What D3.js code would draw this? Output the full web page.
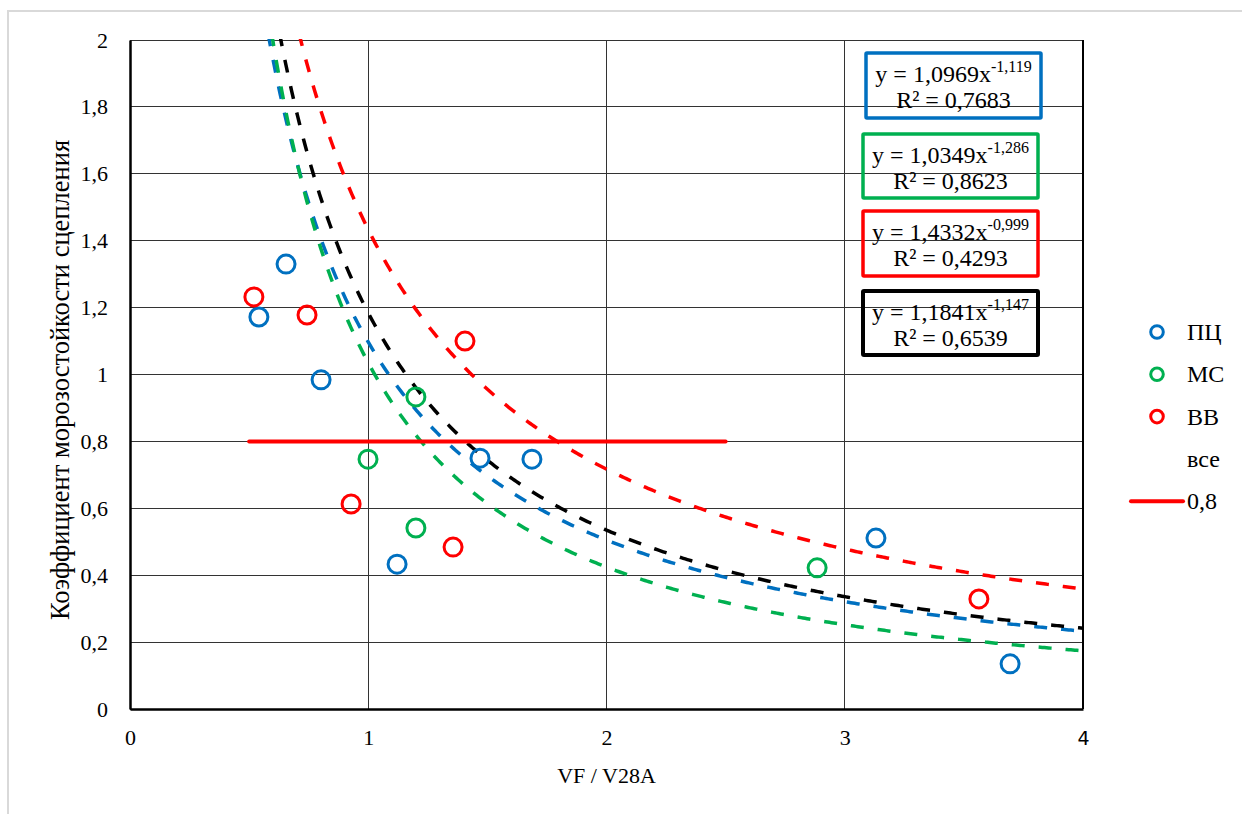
<!DOCTYPE html>
<html><head><meta charset="utf-8">
<script src="https://cdn.jsdelivr.net/npm/d3@7"></script>
<style>body{margin:0;background:#fff}svg{display:block}text{font-family:"Liberation Serif","Times New Roman",serif;fill:#000}</style>
</head><body>
<script>
// Data
const seriesNames = ["ПЦ", "МС", "ВВ"];
const pcX = [0.541, 0.655, 0.802, 1.121, 1.469, 1.687, 3.131, 3.694];
const pcY = [1.172, 1.330, 0.984, 0.433, 0.750, 0.747, 0.511, 0.135];
const msX = [1.200, 0.999, 1.200, 2.884];
const msY = [0.933, 0.747, 0.541, 0.422];
const vvX = [0.520, 0.743, 0.928, 1.406, 1.356, 3.563];
const vvY = [1.232, 1.178, 0.613, 1.100, 0.484, 0.329];
const trendA = [1.0969, 1.0349, 1.4332, 1.1841];
const trendB = [-1.119, -1.286, -0.999, -1.147];
const trendR2 = ["0,7683", "0,8623", "0,4293", "0,6539"];
const trendAtxt = ["1,0969", "1,0349", "1,4332", "1,1841"];
const trendBtxt = ["-1,119", "-1,286", "-0,999", "-1,147"];
const refX = [0.5, 2.5];
const refY = [0.8, 0.8];
const xTicks = [0, 1, 2, 3, 4];
const yTicks = [0, 0.2, 0.4, 0.6, 0.8, 1, 1.2, 1.4, 1.6, 1.8, 2];

const colors = ["#0070C0", "#00B050", "#FF0000", "#000000"];
const W = 1242, H = 814;
const svg = d3.select("body").append("svg").attr("width", W).attr("height", H);
svg.append("rect").attr("x", 8).attr("y", 11).attr("width", W).attr("height", H).attr("fill", "none").attr("stroke", "#d9d9d9").attr("stroke-width", 2);

const L = 130, R = 1083, T = 40, B = 709;
const x = d3.scaleLinear().domain([0, 4]).range([L, R]);
const y = d3.scaleLinear().domain([0, 2]).range([B, T]);
const fmt = v => String(v).replace(".", ",");

// grid
const g = svg.append("g");
g.selectAll(".hg").data(yTicks).enter().append("line")
  .attr("x1", L).attr("x2", R).attr("y1", d => y(d)).attr("y2", d => y(d))
  .attr("stroke", "#333").attr("stroke-width", 1).attr("shape-rendering", "crispEdges");
g.selectAll(".vg").data(xTicks).enter().append("line")
  .attr("y1", T).attr("y2", B).attr("x1", d => x(d)).attr("x2", d => x(d))
  .attr("stroke", "#333").attr("stroke-width", 1).attr("shape-rendering", "crispEdges");
svg.append("line").attr("x1", R).attr("x2", R).attr("y1", T).attr("y2", B).attr("stroke", "#000").attr("stroke-width", 2);

// axes
const xAxis = svg.append("g").attr("transform", `translate(0,${B})`)
  .call(d3.axisBottom(x).tickValues(xTicks).tickFormat(fmt).tickSize(0).tickPadding(20));
const yAxis = svg.append("g").attr("transform", `translate(${L},0)`)
  .call(d3.axisLeft(y).tickValues(yTicks).tickFormat(fmt).tickSize(0).tickPadding(22));
[xAxis, yAxis].forEach(a => {
  a.attr("font-family", '"Liberation Serif",serif').attr("font-size", 22);
  a.select(".domain").attr("stroke", "#000").attr("stroke-width", 2.5);
  a.selectAll("text").style("font-family", '"Liberation Serif",serif').style("font-size", "22px").attr("fill", "#000");
});
xAxis.selectAll(".tick text").filter(d => d === 4)
  .style("font-family", '"DejaVu Sans",sans-serif').style("font-size", "19px").attr("dy", "0.82em");

// clip
svg.append("clipPath").attr("id", "clip").append("rect").attr("x", L).attr("y", T - 1).attr("width", R - L).attr("height", B - T + 1);

// trendlines
const line = d3.line().x(d => x(d[0])).y(d => y(d[1]));
const tg = svg.append("g").attr("clip-path", "url(#clip)");
trendA.forEach((a, i) => {
  const b = trendB[i];
  const x0 = Math.pow(2.02 / a, 1 / b);
  const pts = d3.range(0, 401).map(k => { const xv = x0 + (4 - x0) * k / 400; return [xv, a * Math.pow(xv, b)]; });
  tg.append("path").datum(pts).attr("d", line).attr("fill", "none")
    .attr("stroke", colors[i]).attr("stroke-width", 3.5).attr("stroke-dasharray", "13,14");
});

// reference 0.8 line
svg.append("path").datum(refX.map((v, i) => [v, refY[i]])).attr("d", line)
  .attr("stroke", "#FF0000").attr("stroke-width", 4).attr("fill", "none").attr("stroke-linecap", "round");

// points
const sets = [[pcX, pcY], [msX, msY], [vvX, vvY]];
sets.forEach((s, i) => {
  svg.append("g").selectAll("circle").data(s[0].map((v, k) => [v, s[1][k]])).enter().append("circle")
    .attr("cx", d => x(d[0])).attr("cy", d => y(d[1])).attr("r", 9)
    .attr("fill", "none").attr("stroke", colors[i]).attr("stroke-width", 3);
});

// equation boxes
const boxes = [[866, 53, 175, 65], [863, 134, 175, 64], [863, 211, 175, 65], [863, 291, 175, 64]];
boxes.forEach((bx, i) => {
  svg.append("rect").attr("x", bx[0]).attr("y", bx[1]).attr("width", bx[2]).attr("height", bx[3])
    .attr("fill", "none").attr("stroke", colors[i]).attr("stroke-width", i === 3 ? 4 : 3.5).attr("rx", 1);
  const cx = bx[0] + bx[2] / 2;
  const t1 = svg.append("text").attr("x", cx).attr("y", bx[1] + 29).attr("text-anchor", "middle").style("font-size", "24px");
  t1.append("tspan").text("y = " + trendAtxt[i] + "x");
  t1.append("tspan").attr("dy", -10).style("font-size", "16px").text(trendBtxt[i]);
  svg.append("text").attr("x", cx).attr("y", bx[1] + 55).attr("text-anchor", "middle").style("font-size", "24px")
    .text("R² = " + trendR2[i]);
});

// legend
const legItems = seriesNames.concat(["все", "0,8"]);
legItems.forEach((n, i) => {
  const ly = 332 + i * 42.3;
  if (i < 3) svg.append("circle").attr("cx", 1157).attr("cy", ly).attr("r", 6.3).attr("fill", "none").attr("stroke", colors[i]).attr("stroke-width", 3);
  if (i === 4) svg.append("line").attr("x1", 1131).attr("x2", 1183).attr("y1", ly).attr("y2", ly).attr("stroke", "#FF0000").attr("stroke-width", 4).attr("stroke-linecap", "round");
  svg.append("text").attr("x", 1187).attr("y", ly + 8).style("font-size", "24px").text(n);
});

// axis titles
svg.append("text").attr("x", x(2)).attr("y", 783).attr("text-anchor", "middle").style("font-size", "22px").text("VF / V28A");
svg.append("text").attr("transform", `translate(69,380) rotate(-90)`).attr("text-anchor", "middle").style("font-size", "26.5px")
  .text("Коэффициент морозостойкости сцепления");
</script>
</body></html>
